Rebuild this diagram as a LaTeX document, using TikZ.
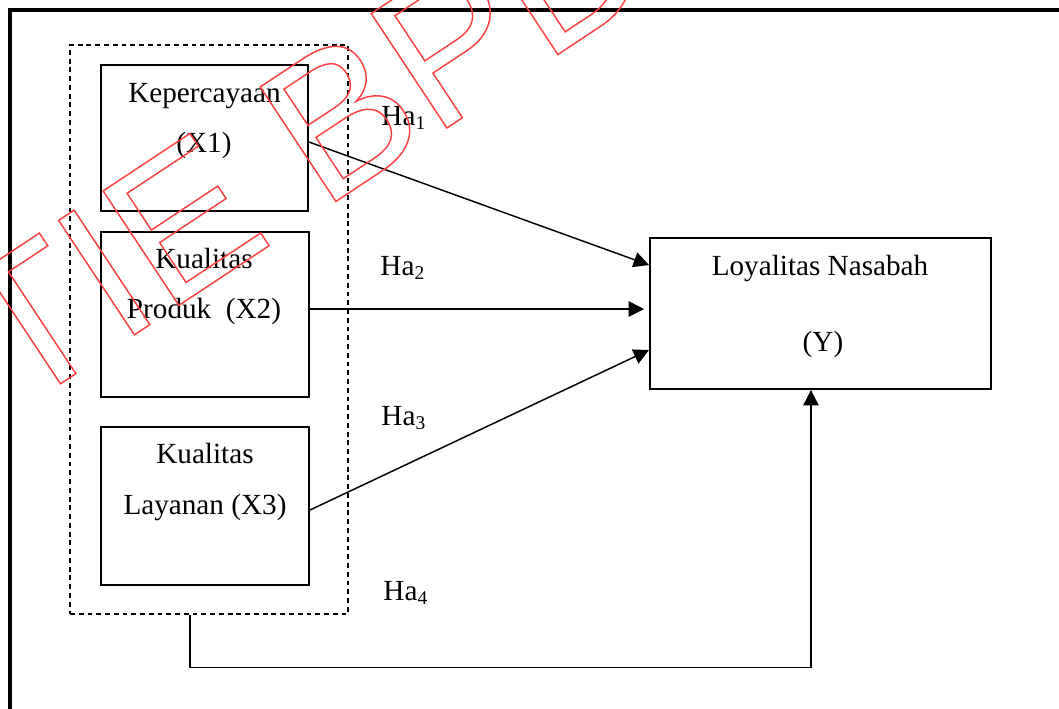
\documentclass[tikz,border=0pt]{standalone}
\usepackage{fontspec}
\setmainfont{Liberation Serif}
\newfontfamily\wmfont{Liberation Sans}
\usetikzlibrary{arrows.meta,fit,calc}
\begin{document}
\begin{tikzpicture}[x=0.411pt,y=-0.411pt,
  box/.style={draw, line width=0.8pt, inner sep=0pt},
  grp/.style={draw, dash pattern=on 2pt off 1.6pt, line width=0.6pt, inner sep=0pt},
  lbl/.style={font=\fontsize{12}{14}\selectfont, inner sep=0pt, anchor=base},
  hlbl/.style={font=\fontsize{12}{14}\selectfont, inner sep=0pt, anchor=base west},
  arr/.style={-{Triangle[length=6.3pt,width=6.3pt]}, line width=0.6pt},
  link/.style={line width=0.5pt},
  framel/.style={line width=2pt},
  wm/.style={font=\wmfont\fontsize{82}{82}\selectfont, text=red!75, inner sep=0pt}]
\useasboundingbox (0,0) rectangle (1059,708);
\clip (0,0) rectangle (1059,708);
% frame
\coordinate (fbl) at (10,720);
\coordinate (ftl) at (10,10);
\coordinate (ftr) at (1070,10);
\draw[framel] (fbl) -- (ftl) -- (ftr);
% group and boxes
\node[grp, fit={(70,45) (348,614)}] (grp) {};
\node[box, fit={(101,65) (308,211)}] (x1) {};
\node[box, fit={(101,232) (309,397)}] (x2) {};
\node[box, fit={(101,427) (309,585)}] (x3) {};
\node[box, fit={(650,238) (991,389)}] (y) {};
% texts
\node[lbl] (x1a) at (204.5,102) {Kepercayaan};
\node[lbl] (x1b) at (204,152) {(X1)};
\node[lbl] (x2a) at (204,268) {Kualitas};
\node[lbl] (x2b) at (204,318) {Produk\ \ (X2)};
\node[lbl] (x3a) at (205,463) {Kualitas};
\node[lbl] (x3b) at (205,514) {Layanan (X3)};
\node[lbl] (ya) at (820,275) {Loyalitas Nasabah};
\node[lbl] (yb) at (823,351) {(Y)};
\node[hlbl] (h1) at (381,125) {Ha\textsubscript{1}};
\node[hlbl] (h2) at (380,275) {Ha\textsubscript{2}};
\node[hlbl] (h3) at (381,425) {Ha\textsubscript{3}};
\node[hlbl] (h4) at (383,600) {Ha\textsubscript{4}};
% arrows
\draw[arr] ($(x1.east)+(0,4)$) -- ($(y.west)+(0,-48.5)$);
\draw[arr] ($(x2.east)+(0,-5.5)$) -- ($(y.west)+(-5,-4.5)$);
\draw[arr] ($(x3.east)+(0,4)$) -- ($(y.west)+(0,36.5)$);
\coordinate (g1) at ($(grp.south)+(-19,0)$);
\coordinate (g2) at ($(grp.south)+(-19,53)$);
\coordinate (y4) at ($(y.south)+(-9.5,0)$);
\draw[link] (g1) -- (g2) -- (g2 -| y4);
\draw[arr, line width=0.5pt] (g2 -| y4) -- (y4);
% watermark
\node[wm, anchor=base west, rotate=33.5] (wmk) at (-94,486) {\special{pdf:literal direct 1 Tr 0.6 w}STIE BPD\special{pdf:literal direct 0 Tr}};
\end{tikzpicture}
\end{document}
